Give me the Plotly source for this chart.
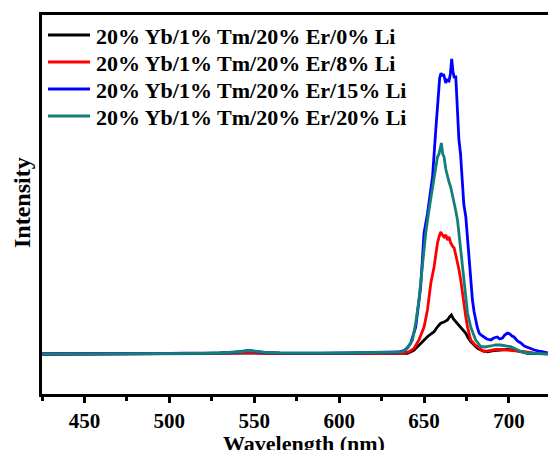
import plotly.graph_objects as go

# ---- data (wavelength in nm, intensity in a.u.) ----
names = ["20% Yb/1% Tm/20% Er/0% Li", "20% Yb/1% Tm/20% Er/8% Li",
         "20% Yb/1% Tm/20% Er/15% Li", "20% Yb/1% Tm/20% Er/20% Li"]
colors = ["#000000", "#ff0000", "#0000ff", "#137f7b"]

wl_black = [425, 450, 475, 500, 510, 520, 530, 538, 546, 552, 560, 575, 590, 605, 620, 630, 636,
            640.2, 642, 644.1, 646, 648, 650, 652, 654, 655.9, 657.8, 659.8, 661.8, 663.8, 665,
            666.1, 667.3, 668.7, 670, 671.6, 673, 674.6, 676, 677.5, 679.5, 681.5, 684, 687.3,
            691, 695.1, 699, 703, 707, 710.9, 716, 725]
int_black = [0, 0, 0.2, 0.4, 0.6, 0.5, 0.8, 1.0, 1.5, 1.0, 0.7, 0.6, 0.6, 0.8, 0.8, 0.7, 0.5,
             0.7, 2, 4, 7, 10.7, 14, 17.3, 20, 22.3, 27, 30.7, 32, 34, 37,
             39, 35, 32.3, 30, 27.3, 24, 20.7, 16, 12.3, 9, 5.7, 3.5, 2.3,
             3.5, 4, 4.5, 4, 2, 0.7, 0.5, 0]

wl_red = [425, 450, 475, 500, 510, 520, 530, 538, 546, 552, 560, 575, 590, 605, 620, 630, 637,
          641.2, 644.1, 647, 650, 652, 654, 655.9, 657, 657.9, 659, 659.8, 660.8, 661.8, 662.8,
          663.8, 664.7, 665.7, 666.7, 667.7, 668.7, 669.7, 670.6, 671.6, 672.6, 673.6, 674.6,
          675.6, 677.5, 679.5, 681.5, 683.5, 685.3, 687, 689.3, 692, 695.1, 698, 701, 705,
          708.9, 714, 720, 725]
int_red = [0, 0, 0.2, 0.5, 0.4, 0.7, 0.6, 1.0, 1.5, 1.0, 0.6, 0.7, 0.5, 0.8, 0.7, 0.9, 1.0,
           2.3, 5.7, 14, 27, 44, 71, 87, 100, 111, 118, 122, 119, 117, 119,
           114, 117, 111, 108, 106, 99, 92, 84, 74, 60, 47, 37,
           27, 14, 10, 7.3, 4, 2.3, 3, 4, 4.5, 4.7, 4, 3.3, 3,
           2.3, 1, 0.5, 0]

wl_blue = [425, 450, 475, 500, 510, 520, 530, 538, 543, 547, 551, 556, 565, 575, 590, 605, 620,
           630, 635, 638.2, 640, 642.2, 645.1, 648, 650, 652, 653, 655, 656.9, 658, 659.2, 660,
           660.8, 661.5, 662.8, 663.5, 664.7, 665.5, 666.3, 667, 667.7, 668.7, 669.7, 670.5,
           671.5, 673.4, 674.6, 675.5, 676.5, 677.5, 678.5, 679.5, 680.4, 681.3, 682.4, 683.5,
           685.3, 687, 689.3, 691, 693.2, 694.5, 696.2, 697.5, 699.1, 700.5, 701.8, 703, 705,
           707, 709, 711.8, 715, 718.7, 722.6, 725]
int_blue = [0, 0, 0.2, 0.5, 0.8, 0.6, 1.0, 1.5, 2.5, 3.5, 2.5, 1.5, 1.0, 0.8, 0.8, 1.0, 1.2,
            1.5, 2.0, 3.5, 6, 11, 27, 67, 121, 140, 152, 177, 224, 250, 276, 281,
            278, 280, 271, 274, 273, 280, 295, 283, 277, 277, 237, 215,
            200, 150, 137, 118, 94, 72, 54, 42, 34, 27, 21, 19,
            17, 15, 14, 16, 17, 15, 16, 19, 21, 20, 18, 17, 13,
            11, 8, 6, 4, 2.5, 1, 0.5]

wl_teal = [425, 450, 475, 500, 510, 520, 530, 538, 543, 547, 551, 556, 565, 575, 590, 605, 620,
           630, 634, 637.3, 640.2, 643.2, 645.1, 647, 649, 651, 653, 654, 655.9, 657.9, 658.8,
           659.5, 660.2, 661, 661.8, 662.8, 663.8, 664.7, 665.7, 666.7, 667.7, 668.7, 669.7,
           670.6, 671.6, 672.6, 673.6, 674.6, 675.6, 677.5, 679, 680.4, 683.4, 686, 689.3, 692,
           695.1, 698, 701, 704, 707, 711, 715, 720, 725]
int_teal = [0, 0, 0.3, 0.5, 0.7, 0.6, 1.0, 1.6, 2.5, 3.5, 2.6, 1.6, 1.0, 0.8, 0.9, 1.0, 1.1,
            1.4, 1.8, 2.3, 5.7, 14, 31, 54, 87, 121, 145, 155, 177, 197, 200,
            205, 211, 200, 197, 185, 177, 172, 167, 160, 152, 143, 134,
            120, 104, 87, 71, 55, 41, 27, 20, 14, 7.5, 7, 8, 9,
            9, 8.5, 7.3, 5, 2.3, 1, 0.5, 0.5, 0]

series_x = [wl_black, wl_red, wl_blue, wl_teal]
series_y = [int_black, int_red, int_blue, int_teal]

x_ticks = [450, 500, 550, 600, 650, 700]

FONT = "Liberation Serif, Times New Roman, serif"
W, H = 548, 450
ML, MR, MT, MB = 42, 0, 15, 56
PW, PH = W - ML - MR, H - MT - MB


def px_x(x):  # pixel -> paper x
    return (x - ML) / PW


def px_y(y):  # pixel -> paper y
    return (H - MB - y) / PH


fig = go.Figure()
for nm, col, xs, ys in zip(names, colors, series_x, series_y):
    fig.add_trace(go.Scatter(x=xs, y=ys, mode="lines", name=nm,
                             line=dict(color=col, width=2.8), showlegend=False))

# legend drawn as shapes + annotations (tighter row spacing like the reference)
shapes, annotations = [], []
for i, (nm, col) in enumerate(zip(names, colors)):
    yy = px_y(35 + 27 * i)
    shapes.append(dict(type="line", xref="paper", yref="paper",
                       x0=px_x(48), x1=px_x(90), y0=yy, y1=yy,
                       line=dict(color=col, width=3)))
    annotations.append(dict(xref="paper", yref="paper", x=px_x(94), y=px_y(36 + 27 * i),
                            xanchor="left", yanchor="middle", showarrow=False, text=nm,
                            font=dict(family=FONT, size=22, color="black", weight="bold")))

annotations.append(dict(xref="paper", yref="paper", x=px_x(304), y=px_y(443),
                        xanchor="center", yanchor="middle", showarrow=False,
                        text="Wavelength (nm)",
                        font=dict(family=FONT, size=22, color="black", weight="bold")))
annotations.append(dict(xref="paper", yref="paper", x=px_x(22), y=px_y(203),
                        xanchor="center", yanchor="middle", showarrow=False,
                        text="Intensity", textangle=-90,
                        font=dict(family=FONT, size=24, color="black", weight="bold")))

fig.update_layout(
    width=W, height=H,
    margin=dict(l=ML, r=MR, t=MT, b=MB, autoexpand=False),
    paper_bgcolor="white", plot_bgcolor="white",
    font=dict(family=FONT, size=21, color="black", weight="bold"),
    showlegend=False,
    shapes=shapes, annotations=annotations,
    xaxis=dict(range=[425, 723], showline=True, linecolor="black", linewidth=3,
               mirror=True, showgrid=False, zeroline=False, automargin=False,
               tickmode="array", tickvals=x_ticks, ticks="outside", ticklen=6,
               tickwidth=2.5, tickcolor="black",
               minor=dict(dtick=25, tick0=425, ticks="outside", ticklen=4,
                          tickwidth=2.5, tickcolor="black", showgrid=False),
               tickfont=dict(family=FONT, size=21, color="black", weight="bold")),
    yaxis=dict(range=[-40, 339], showline=True, linecolor="black", linewidth=3,
               mirror=False, showgrid=False, zeroline=False, automargin=False,
               showticklabels=False, ticks=""),
)

fig.write_html("out.html", config={"displayModeBar": False},
               post_script="document.body.style.margin='0px';document.body.style.overflow='hidden';")
